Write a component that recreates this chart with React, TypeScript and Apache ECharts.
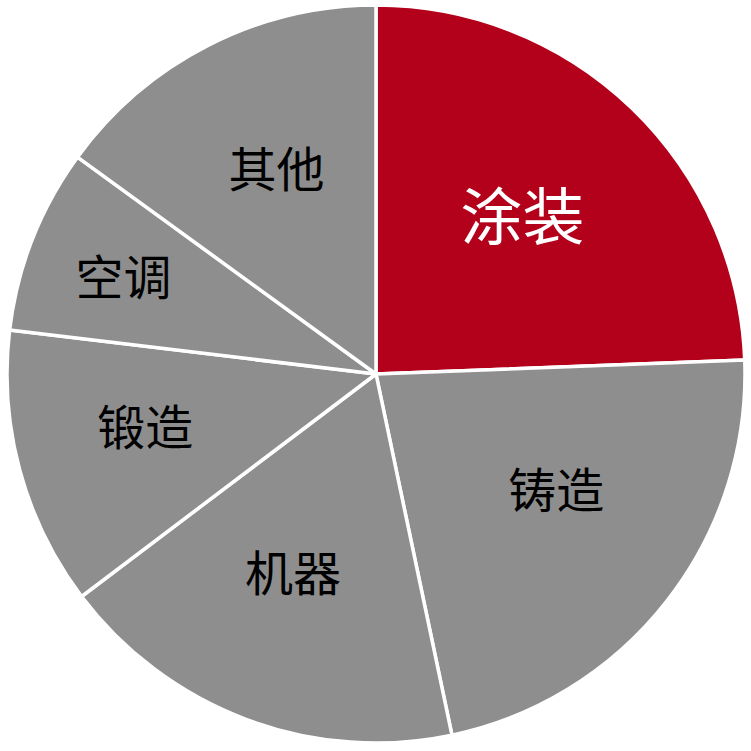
import React from 'react';
import * as echarts from 'echarts';

const categories = ['涂装', '铸造', '机器', '锻造', '空调', '其他'];
const shares = [24.4, 22.3, 18.0, 12.2, 8.1, 15.0];

// label placement: distance from centre (px) and turn away from the slice middle (deg)
const labelDistance = [215, 215, 217, 237, 270, 227];
const labelTurn = [-1, -5, 2, 2, -0.7, 1];

const CX = 376;
const CY = 374;
const R = 369;

// middle angle of each slice, clockwise from 12 o'clock, radians
const total = shares.reduce((a, b) => a + b, 0);
const midAngles: number[] = [];
let acc = 0;
shares.forEach((v, i) => {
  midAngles.push(((acc + v / 2) / total) * Math.PI * 2 + (labelTurn[i] * Math.PI) / 180);
  acc += v;
});

const App = () => {
  const chartRef = React.useRef(null);

  React.useEffect(() => {
    document.body.style.margin = '0';
    const myChart = echarts.init(chartRef.current, null, { renderer: 'svg' });

    const option: any = {
      animation: false,
      series: [
        {
          type: 'pie',
          center: [CX, CY],
          radius: [0, R],
          startAngle: 90,
          clockwise: true,
          silent: true,
          itemStyle: {
            color: '#8E8E8E',
            borderColor: '#ffffff',
            borderWidth: 3.5,
          },
          label: {
            show: true,
            position: 'inside',
            color: '#000000',
            fontSize: 48,
            fontFamily: 'Noto Sans CJK SC',
            formatter: '{b}',
          },
          labelLine: { show: false },
          labelLayout: (params: any) => {
            const i = params.dataIndex;
            const a = midAngles[i];
            const d = labelDistance[i];
            return {
              x: CX + d * Math.sin(a),
              y: CY - d * Math.cos(a) - 4,
              align: 'center',
              verticalAlign: 'middle',
            };
          },
          data: categories.map((name, i) =>
            i === 0
              ? {
                  name,
                  value: shares[i],
                  itemStyle: { color: '#B3001B' },
                  label: { color: '#ffffff', fontSize: 62 },
                }
              : { name, value: shares[i] }
          ),
        },
      ],
    };

    myChart.setOption(option);

    return () => {
      myChart.dispose();
    };
  }, []);

  return <div ref={chartRef} style={{ width: '751px', height: '751px' }} />;
};

export default App;
